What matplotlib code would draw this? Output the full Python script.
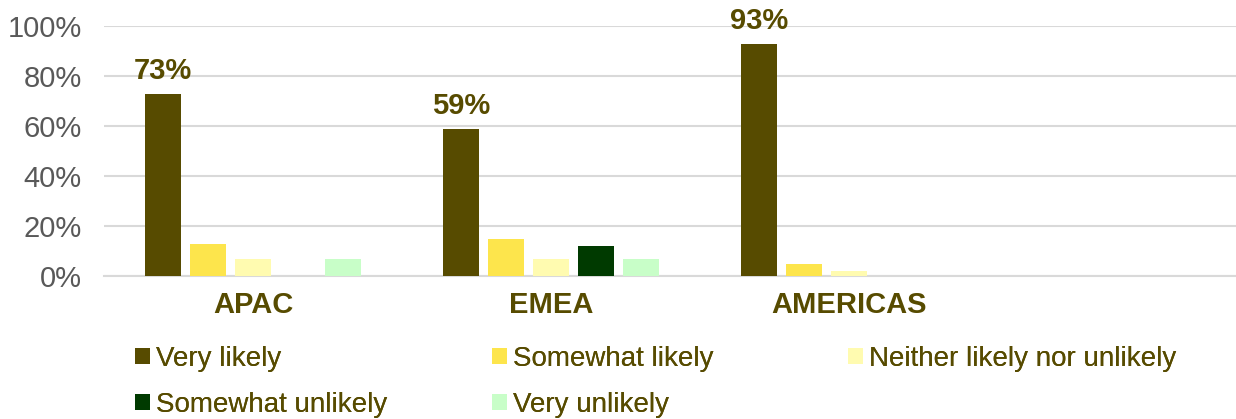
import matplotlib.pyplot as plt
import numpy as np
from matplotlib.ticker import FuncFormatter

# Data
regions = ['APAC', 'EMEA', 'AMERICAS']
responses = ['Very likely', 'Somewhat likely', 'Neither likely nor unlikely',
             'Somewhat unlikely', 'Very unlikely']
very_likely = [73, 59, 93]
somewhat_likely = [13, 15, 5]
neither = [7, 7, 2]
somewhat_unlikely = [0, 12, 0]
very_unlikely = [7, 7, 0]

series = [very_likely, somewhat_likely, neither, somewhat_unlikely, very_unlikely]
colors = ['#574B00', '#FDE54C', '#FFFBB0', '#003A00', '#C8FEC8']
text_color = '#574B00'

fig = plt.figure(figsize=(12.36, 4.19), dpi=100)
ax = fig.add_axes([104 / 1236, 1 - 276 / 419, 1 - 104 / 1236, 250 / 419])

x = np.arange(len(regions))
slot = 0.151
bar_w = 0.121
bars = []
for i, (vals, col, lab) in enumerate(zip(series, colors, responses)):
    pos = x + (i - 2) * slot
    b = ax.bar(pos, vals, width=bar_w, color=col, label=lab, zorder=3)
    bars.append(b)
    if i == 0:
        for p, v in zip(pos, vals):
            ax.annotate(f'{v}%', (p, v), xytext=(0, 6), textcoords='offset points',
                        ha='center', va='bottom', fontsize=21, fontweight='bold',
                        color=text_color, family='Liberation Sans')

ax.set_ylim(0, 100)
ax.set_xlim(-0.5, 3.30)
ax.set_yticks(np.arange(0, 101, 20))
ax.yaxis.set_major_formatter(FuncFormatter(lambda v, _: f'{v:.0f}%'))
ax.grid(axis='y', color='#D9D9D9', linewidth=1.5, zorder=0)
for s in ['top', 'right', 'left']:
    ax.spines[s].set_visible(False)
ax.spines['bottom'].set_color('#D9D9D9')
ax.spines['bottom'].set_linewidth(1.5)
ax.tick_params(axis='y', length=0, labelsize=21, labelcolor='#595959', pad=16)
ax.tick_params(axis='x', length=0, pad=11)
ax.set_xticks(x)
ax.set_xticklabels(regions, fontsize=21, fontweight='bold', color=text_color,
                   family='Liberation Sans')
for t in ax.get_yticklabels():
    t.set_family('Liberation Sans')

# legend laid out row by row, one legend per column
columns = [[0, 3], [1, 4], [2]]
col_x = [121, 478, 834]
for idx, cx in zip(columns, col_x):
    leg = fig.legend([bars[k] for k in idx], [responses[k] for k in idx],
                     loc='upper left', bbox_to_anchor=(cx / 1236, 1 - 332 / 419),
                     frameon=False, handlelength=0.55, handleheight=0.55,
                     handletextpad=0.2, labelspacing=0.72, borderpad=0,
                     prop={'family': 'Liberation Sans', 'size': 20})
    for t in leg.get_texts():
        t.set_color(text_color)
    fig.add_artist(leg)

fig.savefig('out.png', dpi=100)
